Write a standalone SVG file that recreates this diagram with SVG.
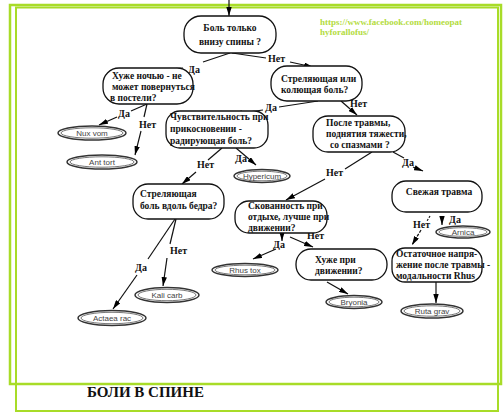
<svg xmlns="http://www.w3.org/2000/svg" width="503" height="414" viewBox="0 0 503 414">
<defs>
<marker id="ah" viewBox="0 0 10 6" refX="10" refY="3" markerWidth="9" markerHeight="5.5" markerUnits="userSpaceOnUse" orient="auto">
<path d="M0,0 L10,3 L0,6 Z" fill="#000"/>
</marker>
<style>
.frame{fill:none;stroke:#a8dc28}
.node{fill:#fff;stroke:#111;stroke-width:1.3}
.nt{font-family:"Liberation Serif","Times New Roman",serif;font-weight:bold;font-size:9.5px;fill:#111}
.el{font-family:"Liberation Serif","Times New Roman",serif;font-weight:bold;font-size:10px;fill:#111}
.rem-o{fill:#fff;stroke:#333;stroke-width:1.5}
.rem-i{fill:none;stroke:#555;stroke-width:0.8}
.rt{font-family:"Liberation Sans",Arial,sans-serif;font-size:8px;fill:#444;text-anchor:middle}
.c{fill:none;stroke:#111;stroke-width:1.2}
.a{marker-end:url(#ah)}
</style>
</defs>
<rect width="503" height="414" fill="#fff"/>
<rect class="frame" x="10" y="5" width="491" height="379" stroke-width="2.5"/>
<rect class="frame" x="16" y="7.5" width="482" height="403.5" stroke-width="2"/>
<text x="320" y="25" font-family="Liberation Serif,serif" font-weight="bold" font-size="9" fill="#b3dc3e">https://www.facebook.com/homeopat</text>
<text x="320" y="35" font-family="Liberation Serif,serif" font-weight="bold" font-size="9" fill="#b3dc3e">hyforallofus/</text>
<text x="87" y="397" font-family="Liberation Serif,serif" font-weight="bold" font-size="15" fill="#111">БОЛИ В СПИНЕ</text>

<g id="connectors">
<path class="c a" d="M229,0 L229,16"/>
<path class="c" d="M230,53 L203,62"/>
<path class="c a" d="M183,68 L137,71"/>
<path class="c" d="M232,53 L266,58"/>
<path class="c a" d="M290,62 L313,67"/>
<path class="c" d="M147,104 L131,111"/>
<path class="c a" d="M117,117 L99,125"/>
<path class="c" d="M147,104 L144,117"/>
<path class="c a" d="M141,131 L135,155"/>
<path class="c" d="M318,101 L279,107"/>
<path class="c a" d="M263,110 L233,114"/>
<path class="c a" d="M341,101 L357,115"/>
<path class="c a" d="M236,148 L256,165"/>
<path class="c" d="M222,148 L208,160"/>
<path class="c a" d="M196,172 L182,184"/>
<path class="c" d="M393,152 L404,158"/>
<path class="c a" d="M413,167 L423,171"/>
<path class="c" d="M372,152 L345,169"/>
<path class="c a" d="M325,179 L286,200"/>
<path class="c" d="M176,219 L170,244"/>
<path class="c a" d="M167,258 L163,286"/>
<path class="c" d="M175,219 L148,259"/>
<path class="c a" d="M137,275 L113,309"/>
<path class="c a" d="M282,233 L282,241"/>
<path class="c a" d="M276,249 L253,259"/>
<path class="c a" d="M290,237 L313,247"/>
<path class="c a" d="M327,282 L348,294"/>
<path class="c a" d="M442,216 L442,225"/>
<path class="c" d="M430,216 L427,221" stroke-dasharray="2,1.5"/>
<path class="c a" d="M421,230 L412,245" stroke-dasharray="3,1.5"/>
<path class="c a" d="M436,282 L436,303"/>
<text class="el" x="188" y="73" font-size="12.5">Да</text>
<text class="el" x="268" y="62" font-size="12.5">Нет</text>
<text class="el" x="118" y="117">Да</text>
<text class="el" x="139" y="128">Нет</text>
<text class="el" x="265" y="111">Да</text>
<text class="el" x="350" y="107">Нет</text>
<text class="el" x="235" y="162">Да</text>
<text class="el" x="197" y="168">Нет</text>
<text class="el" x="402" y="166">Да</text>
<text class="el" x="326" y="176">Нет</text>
<text class="el" x="170" y="254">Нет</text>
<text class="el" x="135" y="271">Да</text>
<text class="el" x="273" y="248">Да</text>
<text class="el" x="307" y="239">Нет</text>
<text class="el" x="449" y="223">Да</text>
<text class="el" x="413" y="228">Нет</text>
</g>

<g id="n1"><rect class="node" x="184" y="16" width="92" height="37" rx="17"/>
<text class="nt" x="230" y="31" font-size="12" text-anchor="middle">Боль только</text>
<text class="nt" x="230" y="45" font-size="12" text-anchor="middle">внизу спины ?</text></g>

<g id="n2"><rect class="node" x="103" y="68" width="90" height="36" rx="16"/>
<text class="nt" x="112" y="79">Хуже ночью - не</text>
<text class="nt" x="112" y="90">может повернуться</text>
<text class="nt" x="110" y="101">в постели?</text></g>

<g id="n3"><rect class="node" x="271" y="66" width="91" height="35" rx="16"/>
<text class="nt" x="281" y="82">Стреляющая или</text>
<text class="nt" x="281" y="93">колющая боль?</text></g>

<g id="n4"><rect class="node" x="166" y="111" width="102" height="37" rx="14"/>
<text class="nt" x="170" y="120">Чувствительность при</text>
<text class="nt" x="170" y="132">прикосновении -</text>
<text class="nt" x="170" y="144">радирующая боль?</text></g>

<g id="n5"><rect class="node" x="313" y="116" width="92" height="36" rx="15"/>
<text class="nt" x="326" y="126">После травмы,</text>
<text class="nt" x="326" y="137">поднятия тяжести,</text>
<text class="nt" x="330" y="148">со спазмами ?</text></g>

<g id="n6"><rect class="node" x="133" y="184" width="91" height="35" rx="15"/>
<text class="nt" x="140" y="197">Стреляющая</text>
<text class="nt" x="140" y="209">боль вдоль бедра?</text></g>

<g id="n7"><rect class="node" x="235" y="201" width="92" height="32" rx="14"/>
<text class="nt" x="248" y="209">Скованность при</text>
<text class="nt" x="248" y="220">отдыхе, лучше при</text>
<text class="nt" x="248" y="231">движении?</text></g>

<g id="n8"><rect class="node" x="296" y="249" width="91" height="31" rx="15"/>
<text class="nt" x="315" y="263">Хуже при</text>
<text class="nt" x="315" y="274">движении?</text></g>

<g id="n9"><rect class="node" x="392" y="181" width="90" height="31" rx="14"/>
<text class="nt" x="439" y="195" text-anchor="middle">Свежая травма</text></g>

<g id="n10"><rect class="node" x="392" y="248" width="90" height="34" rx="13"/>
<text class="nt" x="396" y="257">Остаточное напря-</text>
<text class="nt" x="396" y="268">жение после травмы -</text>
<text class="nt" x="396" y="279">модальности  Rhus</text></g>

<g id="r-nux"><ellipse class="rem-o" cx="92" cy="133" rx="34" ry="7"/><ellipse class="rem-i" cx="92" cy="133" rx="31" ry="5.2"/><text class="rt" x="92" y="135.8">Nux vom</text></g>
<g id="r-ant"><ellipse class="rem-o" cx="102" cy="162" rx="35" ry="7"/><ellipse class="rem-i" cx="102" cy="162" rx="32" ry="5.2"/><text class="rt" x="102" y="164.8">Ant tort</text></g>
<g id="r-hyp"><ellipse class="rem-o" cx="262" cy="176" rx="28" ry="6.5"/><ellipse class="rem-i" cx="262" cy="176" rx="25" ry="4.8"/><text class="rt" x="262" y="178.8">Hypericum</text></g>
<g id="r-kali"><ellipse class="rem-o" cx="167" cy="295" rx="32" ry="7.5"/><ellipse class="rem-i" cx="167" cy="295" rx="29" ry="5.7"/><text class="rt" x="167" y="297.8">Kali carb</text></g>
<g id="r-act"><ellipse class="rem-o" cx="112" cy="318" rx="34" ry="7.5"/><ellipse class="rem-i" cx="112" cy="318" rx="31" ry="5.7"/><text class="rt" x="112" y="320.8">Actaea rac</text></g>
<g id="r-rhus"><ellipse class="rem-o" cx="245" cy="270" rx="33" ry="6.5"/><ellipse class="rem-i" cx="245" cy="270" rx="30" ry="4.8"/><text class="rt" x="245" y="272.8">Rhus tox</text></g>
<g id="r-bry"><ellipse class="rem-o" cx="354" cy="302" rx="28" ry="6.5"/><ellipse class="rem-i" cx="354" cy="302" rx="25" ry="4.8"/><text class="rt" x="354" y="304.8">Bryonia</text></g>
<g id="r-arn"><ellipse class="rem-o" cx="463" cy="232" rx="27" ry="6"/><ellipse class="rem-i" cx="463" cy="232" rx="24" ry="4.3"/><text class="rt" x="463" y="234.8">Arnica</text></g>
<g id="r-ruta"><ellipse class="rem-o" cx="432" cy="311" rx="31" ry="7"/><ellipse class="rem-i" cx="432" cy="311" rx="28" ry="5.2"/><text class="rt" x="432" y="313.8">Ruta grav</text></g>
</svg>
